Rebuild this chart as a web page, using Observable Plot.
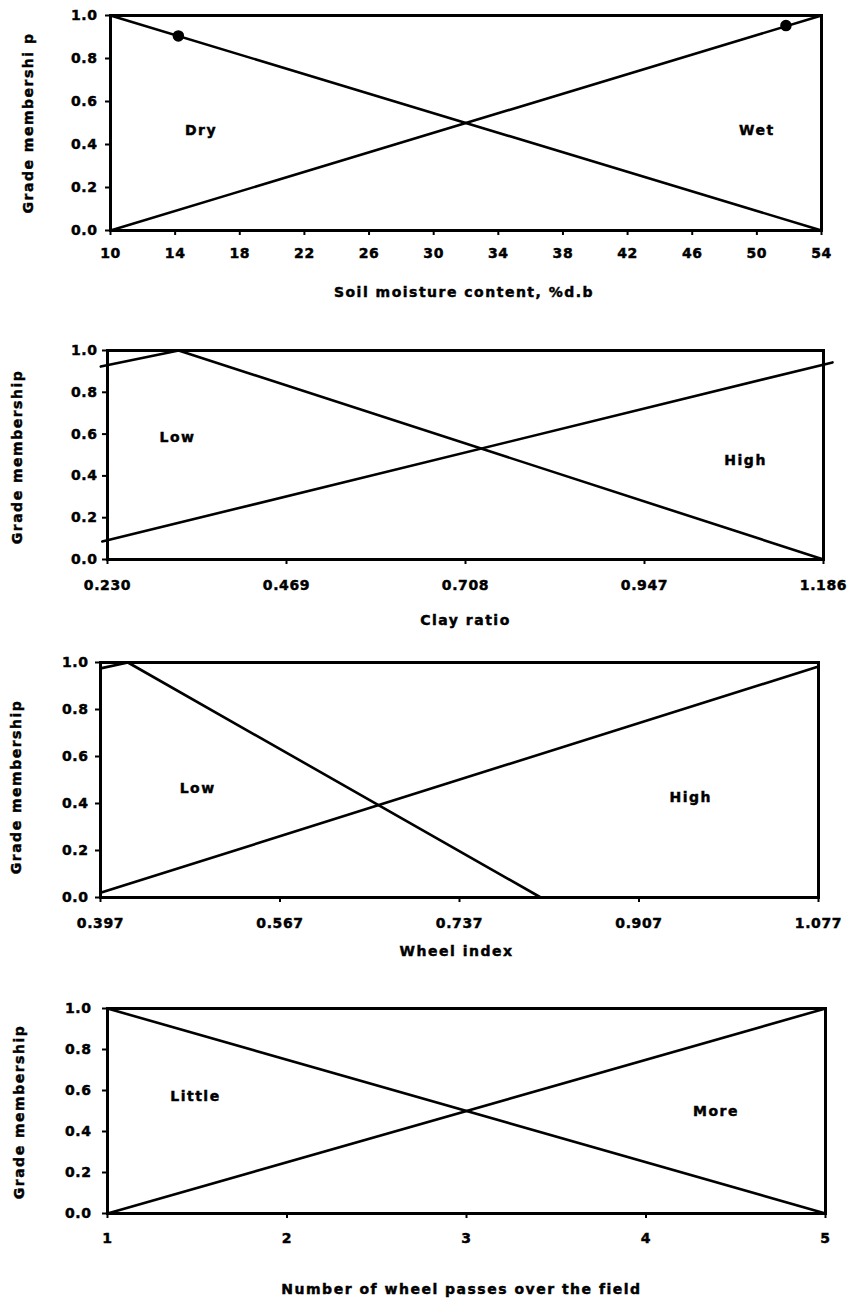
<!DOCTYPE html>
<html><head><meta charset="utf-8">
<script src="https://cdn.jsdelivr.net/npm/d3@7"></script>
<script src="https://cdn.jsdelivr.net/npm/@observablehq/plot@0.6"></script>
<style>
body{margin:0;background:#fff;}
#wrap{position:relative;width:856px;height:1301px;background:#fff;overflow:hidden;}
.panel{position:absolute;left:0;}
.panel svg text{stroke:black;stroke-width:0.45px;}
.panel svg g[aria-label="text"] text{letter-spacing:1.5px;}
</style></head><body><div id="wrap"></div>
<script>
// ---------- data ----------
const gradeTicks = [0, 0.2, 0.4, 0.6, 0.8, 1.0];
const yTitle1 = "Grade membershi p";
const yTitle = "Grade membership";

// Panel 1: soil moisture
const soilTicks = [10, 14, 18, 22, 26, 30, 34, 38, 42, 46, 50, 54];
const soilDryX = [10, 54], soilDryY = [1, 0];
const soilWetX = [10, 54], soilWetY = [0, 1];
const soilMarkX = [14.2, 51.8], soilMarkY = [0.905, 0.953];
const soilNames = ["Dry", "Wet"], soilNameX = [15.6, 50.0], soilNameY = [0.465, 0.465];
const soilTitle = "Soil moisture content, %d.b";

// Panel 2: clay ratio
const clayTicks = [0.230, 0.469, 0.708, 0.947, 1.186];
const clayLowX = [0.221, 0.325, 1.186], clayLowY = [0.923, 1.0, 0.0];
const clayHighX = [0.223, 1.198], clayHighY = [0.086, 0.943];
const clayNames = ["Low", "High"], clayNameX = [0.3235, 1.082], clayNameY = [0.584, 0.474];
const clayTitle = "Clay ratio";

// Panel 3: wheel index
const wheelTicks = [0.397, 0.567, 0.737, 0.907, 1.077];
const wheelLowX = [0.397, 0.423, 0.814, 1.077], wheelLowY = [0.975, 1.0, 0.0, 0.0];
const wheelHighX = [0.397, 1.077], wheelHighY = [0.02, 0.983];
const wheelNames = ["Low", "High"], wheelNameX = [0.489, 0.956], wheelNameY = [0.464, 0.426];
const wheelTitle = "Wheel index";

// Panel 4: wheel passes
const passTicks = [1, 2, 3, 4, 5];
const passLittleX = [1, 5], passLittleY = [1, 0];
const passMoreX = [1, 5], passMoreY = [0, 1];
const passNames = ["Little", "More"], passNameX = [1.49, 4.39], passNameY = [0.571, 0.498];
const passTitle = "Number of wheel passes over the field";

// ---------- helpers ----------
const pts = (xs, ys) => xs.map((x, i) => ({x, y: ys[i]}));
const lbls = (names, xs, ys) => names.map((t, i) => ({t, x: xs[i], y: ys[i]}));

function panel(cfg) {
  const marks = [
    Plot.axisX({ticks: cfg.ticks, tickFormat: cfg.fmt, tickSize: 5, tickPadding: cfg.xPad, strokeWidth: 2, label: null}),
    Plot.axisY({ticks: gradeTicks, tickFormat: d3.format(".1f"), tickSize: 5, tickPadding: cfg.yPad, strokeWidth: 2, label: null}),
    ...cfg.series.map(d => Plot.line(d, {x: "x", y: "y", stroke: "black", strokeWidth: 2.6})),
    Plot.frame({stroke: "black", strokeWidth: 3}),
    Plot.text(cfg.names, {x: "x", y: "y", text: "t", fontSize: 14}),
    Plot.text([cfg.xTitle], {text: d => d, frameAnchor: "bottom", textAnchor: "middle", lineAnchor: "middle", dy: cfg.xtDy, dx: cfg.xtDx, fontSize: 14}),
    Plot.text([cfg.yTitle], {text: d => d, frameAnchor: "left", textAnchor: "middle", lineAnchor: "middle", rotate: -90, dx: cfg.ytDx, dy: cfg.ytDy, fontSize: 14})
  ];
  if (cfg.marks) marks.push(Plot.dot(cfg.marks, {x: "x", y: "y", r: 5, fill: "black", stroke: "black"}));
  const svg = Plot.plot({
    width: 856, height: cfg.height,
    marginTop: cfg.mt, marginBottom: cfg.mb, marginLeft: cfg.ml, marginRight: cfg.mr,
    x: {domain: cfg.domain},
    y: {domain: [0, 1]},
    style: {fontFamily: "'DejaVu Sans', sans-serif", fontSize: "14px", fontWeight: "bold", letterSpacing: "0.6px", color: "black", background: "white", overflow: "visible"},
    marks
  });
  const div = document.createElement("div");
  div.className = "panel";
  div.style.top = cfg.top + "px";
  div.appendChild(svg);
  document.getElementById("wrap").appendChild(div);
}

panel({top: 0, height: 325, mt: 15, mb: 95, ml: 110, mr: 35, domain: [10, 54],
  ticks: soilTicks, fmt: d3.format("d"), xPad: 13, yPad: 8,
  series: [pts(soilDryX, soilDryY), pts(soilWetX, soilWetY)],
  marks: pts(soilMarkX, soilMarkY),
  names: lbls(soilNames, soilNameX, soilNameY),
  xTitle: soilTitle, xtDy: 62, xtDx: -2, yTitle: yTitle1, ytDx: -82, ytDy: 0});

panel({top: 325, height: 320, mt: 25, mb: 86, ml: 107, mr: 33, domain: [0.230, 1.186],
  ticks: clayTicks, fmt: d3.format(".3f"), xPad: 16, yPad: 5,
  series: [pts(clayLowX, clayLowY), pts(clayHighX, clayHighY)],
  names: lbls(clayNames, clayNameX, clayNameY),
  xTitle: clayTitle, xtDy: 61, xtDx: 0, yTitle: yTitle, ytDx: -90, ytDy: 2});

panel({top: 645, height: 330, mt: 17, mb: 78, ml: 100, mr: 38, domain: [0.397, 1.077],
  ticks: wheelTicks, fmt: d3.format(".3f"), xPad: 16, yPad: 7,
  series: [pts(wheelLowX, wheelLowY), pts(wheelHighX, wheelHighY)],
  names: lbls(wheelNames, wheelNameX, wheelNameY),
  xTitle: wheelTitle, xtDy: 54, xtDx: -3, yTitle: yTitle, ytDx: -84, ytDy: 7});

panel({top: 975, height: 326, mt: 33, mb: 88, ml: 107, mr: 31, domain: [1, 5],
  ticks: passTicks, fmt: d3.format("d"), xPad: 15, yPad: 11,
  series: [pts(passLittleX, passLittleY), pts(passMoreX, passMoreY)],
  names: lbls(passNames, passNameX, passNameY),
  xTitle: passTitle, xtDy: 76, xtDx: -5, yTitle: yTitle, ytDx: -88, ytDy: 1});
</script></body></html>
